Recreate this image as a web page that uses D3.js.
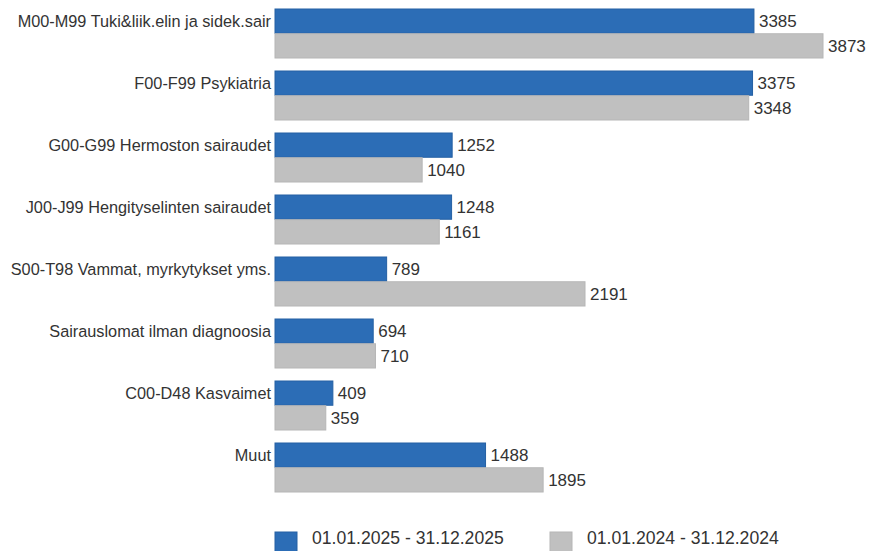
<!DOCTYPE html>
<html>
<head>
<meta charset="utf-8">
<script src="https://cdn.jsdelivr.net/npm/d3@7"></script>
<style>
  body { margin: 0; background: #fff; }
  text { font-family: "Liberation Sans", Arial, sans-serif; fill: #333; }
</style>
</head>
<body>
<svg id="chart" width="870" height="551"></svg>
<script>
// categories and values
var categories = [
    "M00-M99 Tuki&liik.elin ja sidek.sair",
    "F00-F99 Psykiatria",
    "G00-G99 Hermoston sairaudet",
    "J00-J99 Hengityselinten sairaudet",
    "S00-T98 Vammat, myrkytykset yms.",
    "Sairauslomat ilman diagnoosia",
    "C00-D48 Kasvaimet",
    "Muut"
];
var values2025 = [3385, 3375, 1252, 1248, 789, 694, 409, 1488];
var values2024 = [3873, 3348, 1040, 1161, 2191, 710, 359, 1895];
var seriesNames = ["01.01.2025 - 31.12.2025", "01.01.2024 - 31.12.2024"];
var colors = ["#2c6db6", "#c0c0c0"];
var strokes = ["#2460a3", "#b6b6b6"];

var svg = d3.select("#chart");

var rows = categories.map(function (c, i) {
    return { cat: c, vals: [values2025[i], values2024[i]] };
});

var x = d3.scaleLinear()
    .domain([0, 3873])
    .range([275, 823]);

var y = d3.scaleBand()
    .domain(categories)
    .range([9, 492])
    .paddingInner(13 / 62)
    .paddingOuter(0);

var ySub = d3.scaleBand()
    .domain([0, 1])
    .range([0, y.bandwidth()])
    .paddingInner(1 / 49);

var groups = svg.selectAll("g.row").data(rows).enter()
    .append("g")
    .attr("class", "row")
    .attr("transform", function (d) { return "translate(0," + y(d.cat) + ")"; });

// category labels, centred on the first bar
groups.append("text")
    .attr("x", 271)
    .attr("y", ySub(0) + ySub.bandwidth() / 2)
    .attr("dy", "0.35em")
    .attr("text-anchor", "end")
    .style("font-size", "16.3px")
    .text(function (d) { return d.cat; });

var bars = groups.selectAll("g.bar")
    .data(function (d) { return d.vals.map(function (v, k) { return { v: v, k: k }; }); })
    .enter().append("g").attr("class", "bar");

bars.append("rect")
    .attr("x", x(0))
    .attr("y", function (d) { return ySub(d.k); })
    .attr("width", function (d) { return x(d.v) - x(0); })
    .attr("height", ySub.bandwidth())
    .attr("fill", function (d) { return colors[d.k]; })
    .attr("stroke", function (d) { return strokes[d.k]; })
    .attr("stroke-width", 1);

bars.append("text")
    .attr("x", function (d) { return x(d.v) + 5; })
    .attr("y", function (d) { return ySub(d.k) + ySub.bandwidth() / 2; })
    .attr("dy", "0.35em")
    .style("font-size", "17px")
    .text(function (d) { return d.v; });

// legend
var legendX = [275, 550];
var legend = svg.selectAll("g.legend").data(seriesNames).enter()
    .append("g")
    .attr("class", "legend")
    .attr("transform", function (d, i) { return "translate(" + legendX[i] + ",532)"; });

legend.append("rect")
    .attr("width", 22)
    .attr("height", 24)
    .attr("fill", function (d, i) { return colors[i]; })
    .attr("stroke", function (d, i) { return strokes[i]; });

legend.append("text")
    .attr("x", 37)
    .attr("y", 6)
    .attr("dy", "0.35em")
    .style("font-size", "17.6px")
    .text(function (d) { return d; });
</script>
</body>
</html>
